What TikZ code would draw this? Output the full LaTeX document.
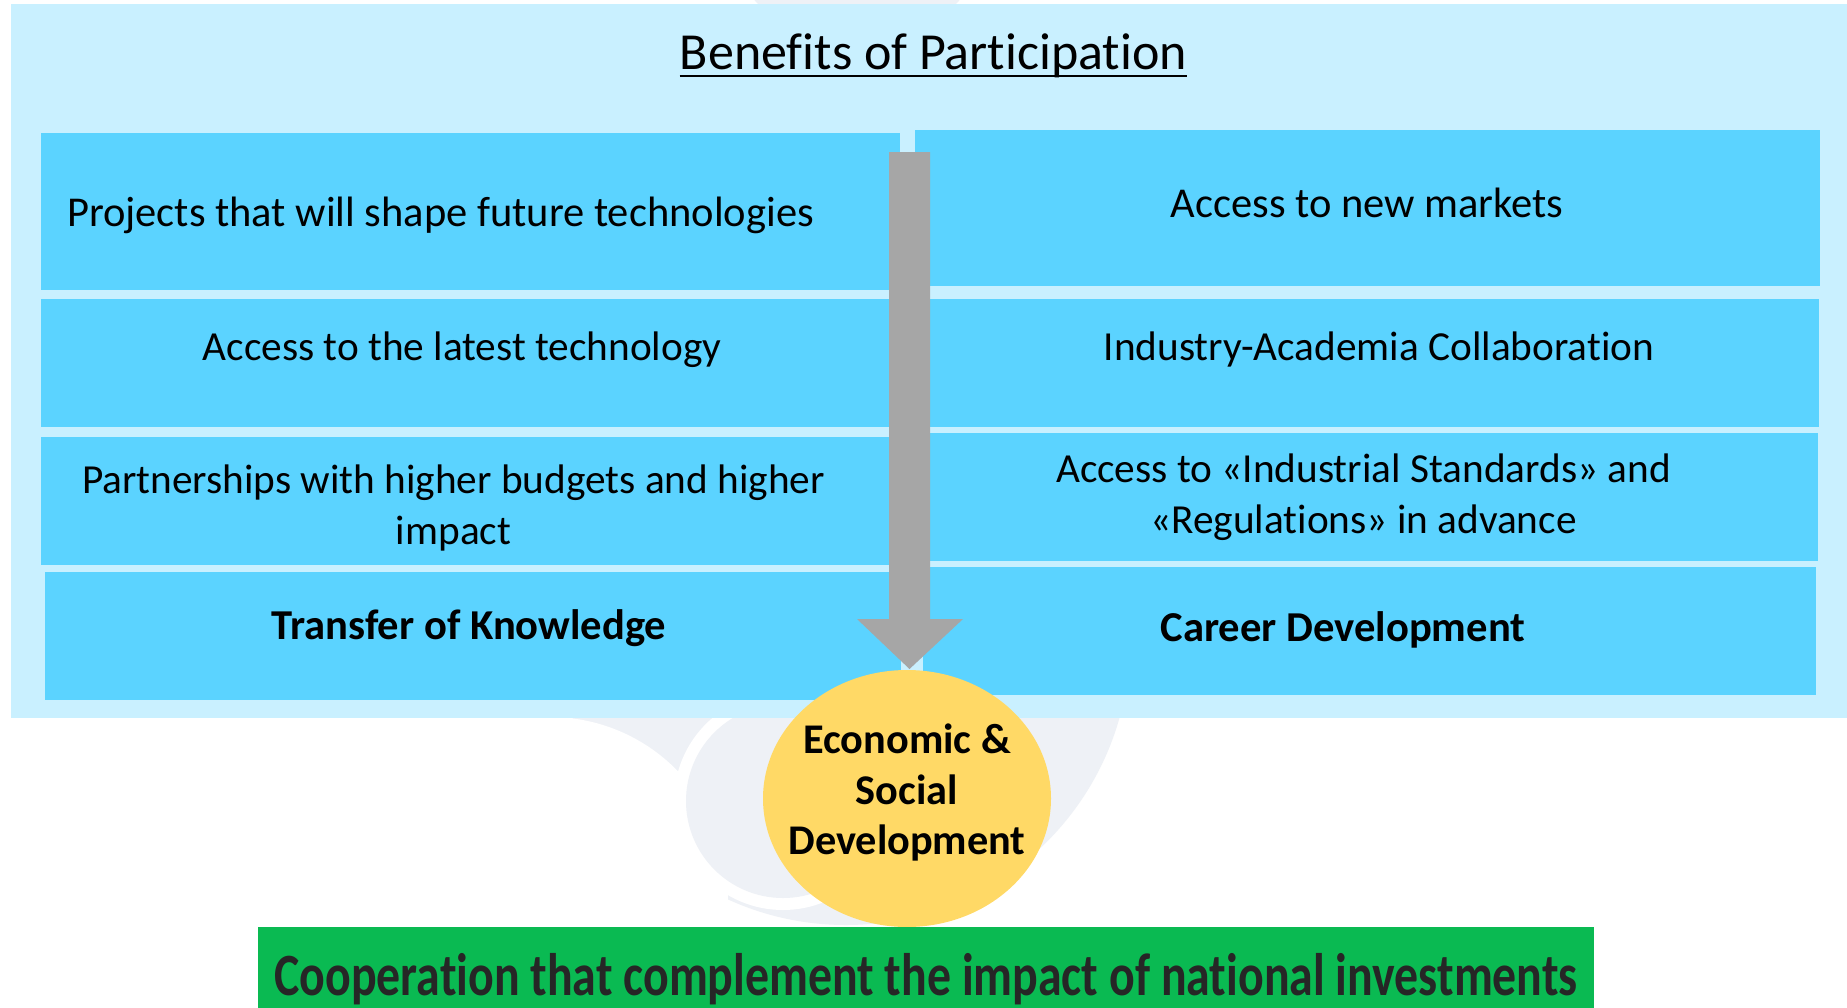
\documentclass[tikz,border=0pt]{standalone}
\usepackage{fontspec}
\setmainfont{Carlito}[Ligatures=NoCommon]
\usetikzlibrary{calc,shapes.geometric}
\definecolor{lightbg}{RGB}{201,240,255}
\definecolor{boxblue}{RGB}{91,211,255}
\definecolor{arrowgray}{RGB}{166,166,166}
\definecolor{yellowc}{RGB}{255,217,102}
\definecolor{greenc}{RGB}{10,186,82}
\definecolor{wmark}{RGB}{238,241,246}
\definecolor{darktext}{RGB}{38,38,38}
\begin{document}
\begin{tikzpicture}[x=1pt,y=-1pt,
  panel/.style={fill=boxblue, draw=none, inner sep=0pt, outer sep=0pt, anchor=north west},
  bodytext/.style={font=\fontsize{41.3}{51}\selectfont, inner sep=0pt, align=center, text=black},
  bigtext/.style={font=\fontsize{42.5}{51}\selectfont, inner sep=0pt, align=center, text=black},
  boldtext/.style={font=\fontsize{42.6}{51}\selectfont\bfseries, inner sep=0pt, align=center, text=black},
]
\useasboundingbox (0,0) rectangle (1847,1007);
\fill[white] (0,0) rectangle (1847,1007);
% faint watermark
\fill[wmark] (846,641) circle (284pt);
\fill[white] (550,895) circle (178pt);
\fill[white] (783,801) circle (109pt);
\fill[wmark] (783,801) circle (97pt);
\fill[wmark] (857,-18) ellipse (110pt and 50pt);
% light background panel
\node[fill=lightbg, inner sep=0pt, anchor=north west, minimum width=1836pt, minimum height=714pt] (bg) at (11,4) {};
% title
\node[anchor=base, inner sep=0pt, font=\fontsize{52}{60}\selectfont] (title) at (933.5,69) {Benefits of Participation};
\draw[line width=2.5pt] ([yshift=-7pt]title.base west) -- ([yshift=-7pt]title.base east);
% left panels
\node[panel, minimum width=859pt, minimum height=157pt] (L1) at (41,133) {};
\node[panel, minimum width=854pt, minimum height=128pt] (L2) at (41,299) {};
\node[panel, minimum width=854pt, minimum height=128pt] (L3) at (41,437) {};
\node[panel, minimum width=856pt, minimum height=128pt] (L4) at (45,572) {};
% right panels
\node[panel, minimum width=905pt, minimum height=156pt] (R1) at (915,130) {};
\node[panel, minimum width=894pt, minimum height=128pt] (R2) at (925,299) {};
\node[panel, minimum width=893pt, minimum height=128pt] (R3) at (925,433) {};
\node[panel, minimum width=893pt, minimum height=128pt] (R4) at (923,567) {};
% texts
\node[bigtext, anchor=base] (t1) at (440.5,226.7) {Projects that will shape future technologies};
\node[bodytext, anchor=base] (t2) at (462,360) {Access to the latest technology};
\node[bodytext] (t3) at (453.5,508) {Partnerships with higher budgets and higher\\impact};
\node[boldtext, anchor=base] (t4) at (469,639) {Transfer of Knowledge};
\node[bigtext, anchor=base] (t5) at (1367,217.5) {Access to new markets};
\node[bodytext, anchor=base] (t6) at (1379,360) {Industry-Academia Collaboration};
\node[bodytext] (t7) at (1363.5,497.2) {Access to «Industrial Standards» and\\«Regulations» in advance};
\node[boldtext, anchor=base] (t8) at (1343,641) {Career Development};
% arrow
\coordinate (atop) at (909.5,152);
\coordinate (atip) at (909.5,669);
\fill[arrowgray] ($(atop)+(-20.5,0)$) -- ($(atop)+(20.5,0)$) -- ($(atip)+(20.5,-50)$) -- ($(atip)+(53.5,-50)$) -- (atip) -- ($(atip)+(-52.5,-50)$) -- ($(atip)+(-20.5,-50)$) -- cycle;
% central ellipse
\node[ellipse, fill=yellowc, draw=none, minimum width=288pt, minimum height=257pt, inner sep=0pt] (econ) at (907,798.5) {};
\node[font=\fontsize{42.3}{50.5}\selectfont\bfseries, align=center, inner sep=0pt] (econt) at (907,792.5) {Economic \&\\Social\\Development};
% green bar
\node[fill=greenc, inner sep=0pt, anchor=north west, minimum width=1336pt, minimum height=90pt] (coopbar) at (258,927) {};
\node[anchor=base, inner sep=0pt, text=darktext, font=\fontsize{60}{70}\selectfont\bfseries] (coop) at (926,995) {\scalebox{0.797}[1]{Cooperation that complement the impact of national investments}};
\end{tikzpicture}
\end{document}
